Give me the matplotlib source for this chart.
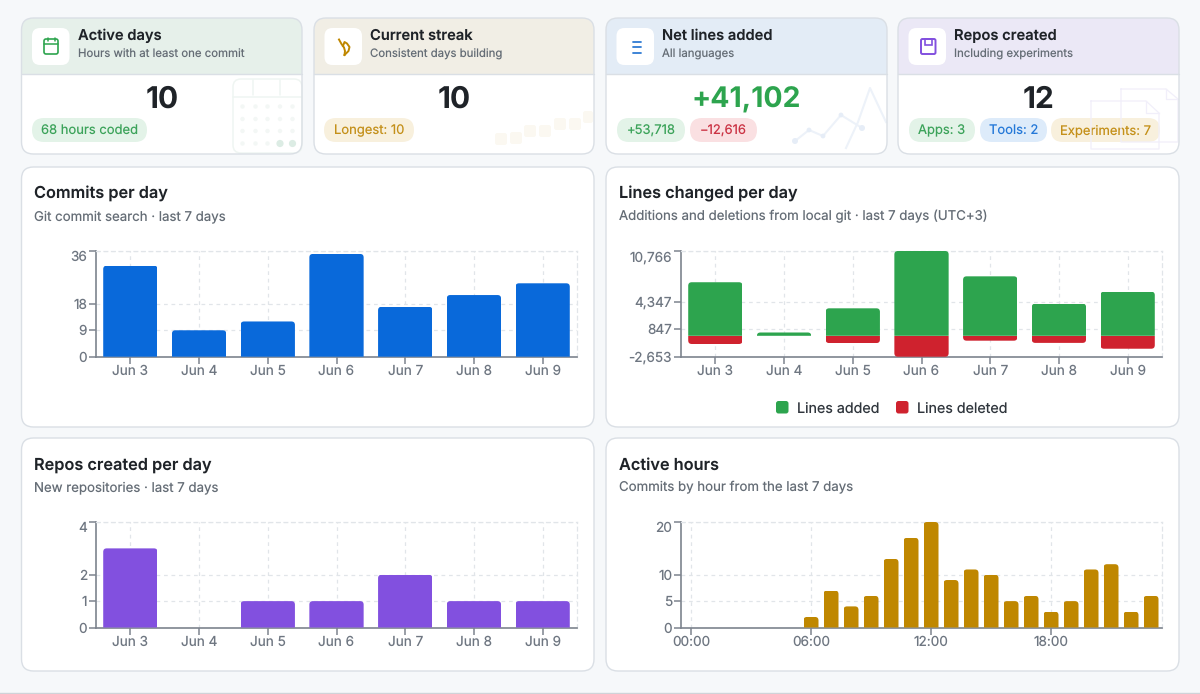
import matplotlib
matplotlib.use("Agg")
import matplotlib.pyplot as plt
from matplotlib.patches import FancyBboxPatch, Rectangle, Circle, Polygon
from matplotlib.path import Path
from matplotlib.lines import Line2D
import numpy as np

plt.rcParams['font.family'] = ['Inter', 'DejaVu Sans']
plt.rcParams['text.hinting'] = 'no_hinting'
plt.rcParams['text.hinting_factor'] = 1

# ---------- data ----------
days = ["Jun 3", "Jun 4", "Jun 5", "Jun 6", "Jun 7", "Jun 8", "Jun 9"]
commits = [31, 9, 12, 35, 17, 21, 25]
commit_ticks = [0, 9, 18, 36]
lines_added = [6800, 420, 3490, 10766, 7550, 4080, 5600]
lines_deleted = [-1040, -60, -920, -2653, -620, -900, -1640]
line_ticks = [-2653, 847, 4347, 10766]
repos = [3, 0, 1, 1, 2, 1, 1]
repo_ticks = [0, 1, 2, 4]
hours = list(range(24))
hour_commits = [0, 0, 0, 0, 0, 0, 2, 7, 4, 6, 13, 17, 20, 9, 11, 10, 5, 6, 3, 5, 11, 12, 3, 6]
hour_ticks = [0, 6, 12, 18]
hour_labels = ["00:00", "06:00", "12:00", "18:00"]
kpi_titles = ["Active days", "Current streak", "Net lines added", "Repos created"]
kpi_subtitles = ["Hours with at least one commit", "Consistent days building", "All languages", "Including experiments"]
kpi_values = ["10", "10", "+41,102", "12"]
chart_titles = ["Commits per day", "Lines changed per day", "Repos created per day", "Active hours"]
chart_subtitles = ["Git commit search · last 7 days",
                   "Additions and deletions from local git · last 7 days (UTC+3)",
                   "New repositories · last 7 days",
                   "Commits by hour from the last 7 days"]

# ---------- style ----------
W, H = 1200, 694
BG = "#f6f8fa"; BORDER = "#dadfe5"; INK = "#1f2328"; MUTED = "#656d76"
AXIS = "#7d848e"; GRID = "#e1e5e9"
GREEN = "#2da44e"; RED = "#cf222e"; BLUE = "#0969da"; PURPLE = "#8250df"; GOLD = "#bf8700"

fig = plt.figure(figsize=(W / 100, H / 100), dpi=100, facecolor=BG)
bg = fig.add_axes([0, 0, 1, 1])
bg.set_xlim(0, W); bg.set_ylim(H, 0); bg.axis("off")


def rrect(x0, y0, x1, y1, r, fc="none", ec="none", lw=0, z=1, alpha=None):
    p = FancyBboxPatch((x0 + r, y0 + r), x1 - x0 - 2 * r, y1 - y0 - 2 * r,
                       boxstyle=f"round,pad={r},rounding_size={r}", fc=fc, ec=ec, lw=lw,
                       zorder=z, alpha=alpha)
    bg.add_patch(p)
    return p


def txt(x, y, s, size, color=INK, weight="normal", ha="left", z=6):
    bg.text(x, y, s, fontsize=size * 0.72, color=color, fontweight=weight, ha=ha, va="baseline", zorder=z)


def line(xs, ys, color, lw=1.0, z=3, **kw):
    bg.add_line(Line2D(xs, ys, color=color, lw=lw, zorder=z, solid_capstyle="round", **kw))


bg.add_line(Line2D([0, W], [692.7, 692.7], color="#cfd3d8", lw=1, zorder=1))

# ---------- KPI cards ----------
cards = [(21.5, 302), (314, 594), (606, 887), (898, 1179)]
headers = ["#e6f0ea", "#f1eee5", "#e3ecf6", "#ebe8f6"]
value_sizes = [30, 30, 28.4, 30]
T, B, HB = 18, 154, 74
for (x0, x1), hc, kt, ks, kv, vs in zip(cards, headers, kpi_titles, kpi_subtitles, kpi_values, value_sizes):
    card = rrect(x0, T, x1, B, 12, fc="white", ec="none", z=1)
    head = Rectangle((x0, T), x1 - x0, HB - T, fc=hc, ec="none", zorder=1.2)
    bg.add_patch(head); head.set_clip_path(card)
    rrect(x0, T, x1, B, 12, fc="none", ec=BORDER, lw=1.0, z=5)
    line([x0, x1], [HB, HB], BORDER, lw=1, z=4)
    rrect(x0 + 10.5, 28, x0 + 48, 65, 8, fc="white", z=2)
    txt(x0 + 56.5, 40.2, kt, 14.7, INK, "semibold")
    txt(x0 + 56.5, 57.2, ks, 11.4, MUTED)
    txt((x0 + x1) / 2, 107.6, kv, vs, GREEN if kv.startswith("+") else INK, "bold", ha="center")

# icons
ix = 51
rrect(ix - 7, 39, ix + 7, 54, 2, ec=GREEN, lw=1.2, z=3)
line([ix - 7, ix + 7], [43.5, 43.5], GREEN, 1.1)
line([ix - 3.5, ix - 3.5], [37.5, 40.5], GREEN, 1.1)
line([ix + 3.5, ix + 3.5], [37.5, 40.5], GREEN, 1.1)
bg.add_line(Line2D([339, 341.5, 344, 345, 344.5], [39.5, 44, 47.5, 51, 55], color=GOLD, lw=1.4, zorder=3))
bg.add_line(Line2D([344.5, 348.5, 349.5, 347, 344.5, 343], [55, 51, 47, 43.5, 42, 46], color=GOLD, lw=1.4, zorder=3))
for yy in (41.5, 47, 52.5):
    line([633, 641], [yy, yy], "#2f7bd3", 1.3)
rrect(921, 39, 935.5, 54, 1.5, ec=PURPLE, lw=1.4, z=3)
bg.add_patch(Polygon([[924.5, 39], [932, 39], [932, 44.5], [924.5, 44.5]], closed=True, fc="none", ec=PURPLE, lw=1.2, zorder=3))

# pills
pills = [
    (32, 147, "68 hours coded", "#e3f3e8", "#3ca35a"),
    (324, 414, "Longest: 10", "#f8f0dd", "#c4901a"),
    (617, 685, "+53,718", "#e3f3e8", "#3ca35a"),
    (690, 757, "−12,616", "#fae0e2", "#cb3344"),
    (909, 975, "Apps: 3", "#e3f3e8", "#3ca35a"),
    (980, 1047, "Tools: 2", "#ddebfa", "#2478d8"),
    (1051, 1160, "Experiments: 7", "#f8f0dd", "#c4901a"),
]
for x0, x1, s, fc, tc in pills:
    rrect(x0, 118, x1, 142, 12, fc=fc, z=2)
    txt((x0 + x1) / 2, 134.6, s, 13, tc, "normal", ha="center", z=3)

# watermarks
WG = "#eff5f2"
rrect(233, 79, 302, 153, 8, ec=WG, lw=1.1, z=3)
line([233, 302], [97, 97], WG, 1.1)
line([253, 253], [80, 95], WG, 1.1); line([280, 280], [80, 95], WG, 1.1)
for j, cy in enumerate([106.5, 119, 131, 143.5]):
    for i, cx in enumerate([242.5, 255.5, 267.5, 280, 292.5]):
        big = j == 3 and i >= 3
        bg.add_patch(Circle((cx, cy), 3.6 if big else 2.2, fc="#dcece4" if big else "#f3f7f5", ec="none", zorder=3))
for cx, cy in [(501, 139), (516, 138), (530, 131), (545, 131), (560, 124), (575, 124), (589, 117)]:
    rrect(cx - 6, cy - 6, min(cx + 6, 593), cy + 6, 2.5, fc="#fbf8f1", z=1.5)
WB = "#edf2f9"
bg.add_line(Line2D([795, 809, 823, 841, 862], [141, 130, 136, 115, 128], color=WB, lw=1.5, zorder=1.5))
for cx, cy, r in [(795, 141, 3), (809, 130, 2.4), (823, 136, 2.4), (841, 115, 2.4), (862, 128, 3)]:
    bg.add_patch(Circle((cx, cy), r, fc="#e6edf7", ec="none", zorder=1.5))
bg.add_line(Line2D([846, 858, 870, 886], [148, 122, 88, 122], color=WB, lw=1.5, zorder=1.5))
WP = "#f1effa"
bg.add_line(Line2D([1091, 1146, 1159, 1159, 1091, 1091], [101, 101, 113, 149, 149, 101], color=WP, lw=0.9, zorder=3))
bg.add_line(Line2D([1146, 1146, 1159], [101, 113, 113], color=WP, lw=0.9, zorder=3))
bg.add_line(Line2D([1121, 1166, 1178, 1178, 1121, 1121], [89, 89, 99, 142, 142, 89], color=WP, lw=0.9, zorder=3))
bg.add_line(Line2D([1166, 1166, 1178], [89, 99, 99], color=WP, lw=0.9, zorder=3))

# ---------- chart cards ----------
chart_boxes = [(21.5, 594, 167, 427), (606, 1179, 167, 427), (21.5, 594, 438, 671), (606, 1179, 438, 671)]
for (x0, x1, y0, y1), t, s in zip(chart_boxes, chart_titles, chart_subtitles):
    rrect(x0, y0, x1, y1, 12, fc="white", ec=BORDER, lw=1.0, z=1)
    txt(x0 + 12.8, y0 + 31.5, t, 16.3, INK, "semibold")
    txt(x0 + 12.8, y0 + 53, s, 13.25, MUTED)


def make_ax(x0, x1, ytop, ybot, ylim, yticks, ylabels, xlim, xticks, xlabels):
    ax = fig.add_axes([x0 / W, 1 - ybot / H, (x1 - x0) / W, (ybot - ytop) / H])
    ax.patch.set_alpha(0)
    ax.set_xlim(*xlim); ax.set_ylim(*ylim)
    ax.set_xticks(xticks); ax.set_xticklabels(xlabels)
    ax.set_yticks(yticks); ax.set_yticklabels(ylabels)
    ax.tick_params(axis="both", color=AXIS, width=1.1, length=5, labelcolor="#6e7681", labelsize=13.6 * 0.72)
    ax.tick_params(axis="x", pad=0.6)
    ax.tick_params(axis="y", pad=1.4)
    ax.grid(True, color=GRID, lw=0.9, ls=(0, (3, 3)))
    ax.set_axisbelow(True)
    for sp in ("left", "bottom"):
        ax.spines[sp].set_color(AXIS); ax.spines[sp].set_linewidth(1.2)
    for sp in ("top", "right"):
        ax.spines[sp].set_color(GRID); ax.spines[sp].set_linewidth(0.9); ax.spines[sp].set_linestyle((0, (3, 3)))
    ax.get_yticklabels()[-1].set_verticalalignment("top")
    return ax


def round_bars(ax, bars, r_px=3.5):
    """Clip bars so the far end from the baseline has rounded corners."""
    px = ax.transData.inverted().transform([[0, 0], [1, 1]])
    ux, uy = abs(px[1, 0] - px[0, 0]), abs(px[1, 1] - px[0, 1])
    for b in bars:
        h = b.get_height()
        if h == 0:
            continue
        x0, x1 = b.get_x(), b.get_x() + b.get_width()
        base = b.get_y()
        end = base + h
        sgn = 1 if h > 0 else -1
        rx = r_px * ux
        ry = min(r_px * uy, abs(h))
        verts = [(x0, base), (x0, end - sgn * ry), (x0, end), (x0 + rx, end), (x1 - rx, end),
                 (x1, end), (x1, end - sgn * ry), (x1, base), (x0, base)]
        codes = [Path.MOVETO, Path.LINETO, Path.CURVE3, Path.CURVE3, Path.LINETO,
                 Path.CURVE3, Path.CURVE3, Path.LINETO, Path.CLOSEPOLY]
        b.set_clip_path(Path(verts, codes), ax.transData)


xpos = np.arange(len(days))
dlim = (-0.5, 6.5)
BW = 0.79

a1 = make_ax(96, 577, 251, 356.7, (0, 36), commit_ticks, [str(v) for v in commit_ticks], dlim, xpos, days)
round_bars(a1, a1.bar(xpos, commits, BW, color="#0969da", zorder=3))

a2 = make_ax(681, 1162, 251, 356.7, (-2653, 10766), line_ticks, [f"{v:,}" for v in line_ticks], dlim, xpos, days)
round_bars(a2, a2.bar(xpos, lines_added, BW, color=GREEN, zorder=3))
round_bars(a2, a2.bar(xpos, lines_deleted, BW, color=RED, zorder=3))

a3 = make_ax(96, 577, 522, 627.5, (0, 4), repo_ticks, [str(v) for v in repo_ticks], dlim, xpos, days)
round_bars(a3, a3.bar(xpos, repos, BW, color=PURPLE, zorder=3))

a4 = make_ax(681, 1162, 522, 627.5, (0, 20), [0, 5, 10, 20], ["0", "5", "10", "20"], (-0.5, 23.55), hour_ticks, hour_labels)
round_bars(a4, a4.bar(hours, hour_commits, 0.75, color=GOLD, zorder=3))

# legend
rrect(776, 401, 788.5, 413.5, 2.5, fc=GREEN, z=3)
txt(797, 412.7, "Lines added", 14.3, "#30363d")
rrect(896, 401, 908.5, 413.5, 2.5, fc=RED, z=3)
txt(917, 412.7, "Lines deleted", 14.3, "#30363d")

fig.savefig("out.png", dpi=100, facecolor=BG)
